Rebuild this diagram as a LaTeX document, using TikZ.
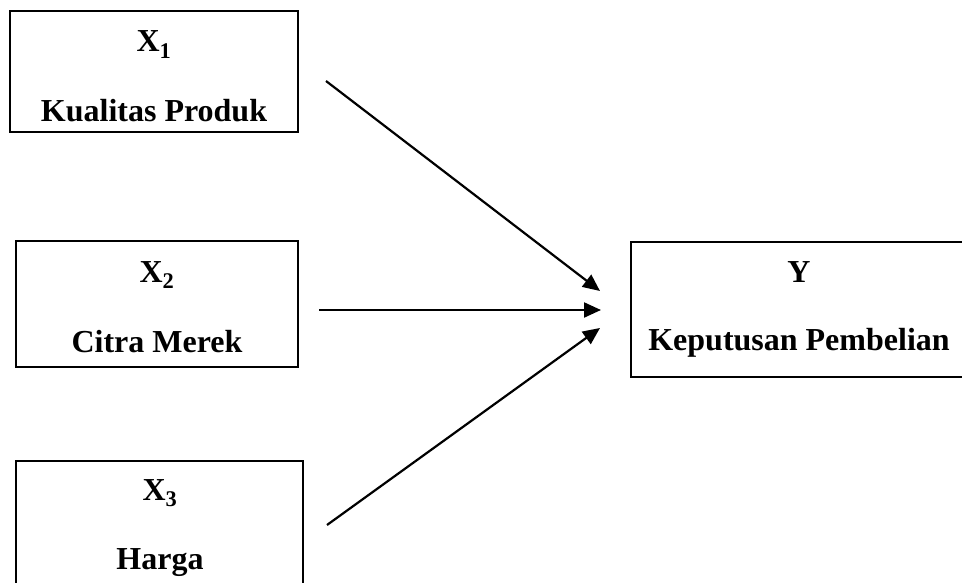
\documentclass[tikz,border=0pt]{standalone}
\usepackage{fontspec}
\setmainfont{Liberation Serif}
\usetikzlibrary{arrows.meta}
\begin{document}
\begin{tikzpicture}[x=1pt,y=-1pt,
  box/.style={draw=black, line width=2.2pt, inner sep=0pt},
  lbl/.style={anchor=base, inner sep=0pt, font=\fontsize{32}{38}\selectfont\bfseries},
  conn/.style={line width=2.2pt, -{Triangle[length=17pt,width=15pt]}}]
\useasboundingbox (0,0) rectangle (962,583);
% boxes
\node[box, minimum width=288pt, minimum height=121pt] (b1) at (154,71.5) {};
\node[box, minimum width=282pt, minimum height=126pt] (b2) at (157,304) {};
\node[box, minimum width=287pt, minimum height=140pt] (b3) at (159.5,531) {};
\node[box, minimum width=336pt, minimum height=135pt] (by) at (799,309.5) {};
% texts
\node[lbl] (t1a) at (154,52) {X\textsubscript{1}};
\node[lbl] (t1b) at (154,122) {Kualitas Produk};
\node[lbl] (t2a) at (157,282) {X\textsubscript{2}};
\node[lbl] (t2b) at (157,352) {Citra Merek};
\node[lbl] (t3a) at (160,500) {X\textsubscript{3}};
\node[lbl] (t3b) at (160,569) {Harga};
\node[lbl] (tya) at (799,282) {Y};
\node[lbl] (tyb) at (799,350) {Keputusan Pembelian};
% connector ends
\coordinate (s1) at (326,81);
\coordinate (s2) at (319,310);
\coordinate (s3) at (327,525);
\coordinate (e1) at (600,291);
\coordinate (e2) at (601,310);
\coordinate (e3) at (600,328);
\draw[conn] (s1) -- (e1);
\draw[conn] (s2) -- (e2);
\draw[conn] (s3) -- (e3);
\end{tikzpicture}
\end{document}
